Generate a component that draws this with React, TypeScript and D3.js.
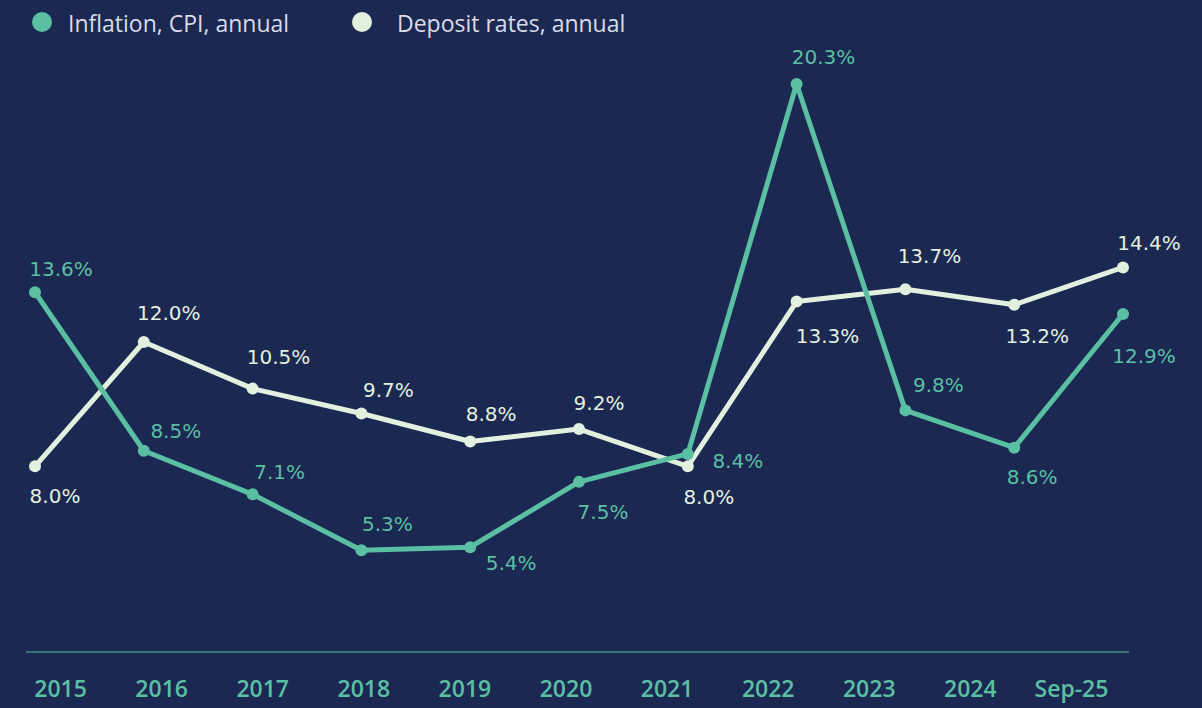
import React from "react";
import * as d3 from "d3";

const categories = ["2015", "2016", "2017", "2018", "2019", "2020", "2021", "2022", "2023", "2024", "Sep-25"];
const inflation = [13.6, 8.5, 7.1, 5.3, 5.4, 7.5, 8.4, 20.3, 9.8, 8.6, 12.9];
const deposit = [8.0, 12.0, 10.5, 9.7, 8.8, 9.2, 8.0, 13.3, 13.7, 13.2, 14.4];

// label offsets relative to each point (layout only)
const inflationLabelOffsets: [number, number][] = [
  [26, -16], [32, -13], [27, -15], [26, -19], [41, 23], [24, 37], [50, 14], [27, -20], [33, -18], [18, 36], [21, 49],
];
const depositLabelOffsets: [number, number][] = [
  [20, 37], [25, -22], [26, -25], [27, -16], [21, -20], [20, -19], [21, 38], [31, 41], [24, -26], [23, 38], [26, -17],
];

const W = 1202;
const H = 708;
const BG = "#1b2852";
const GREEN = "#5bbfa3";
const MINT = "#e1f0df";
const AXIS = "#3d8a8c";

export default function App() {
  const x = d3.scalePoint<string>().domain(categories).range([35, 1123]);
  const xLab = d3.scaleBand<string>().domain(categories).range([10, 1122]);
  const y = d3.scaleLinear().domain([0, 20.3]).range([715, 84]);

  const line = d3
    .line<number>()
    .x((_, i) => x(categories[i]) as number)
    .y((d) => y(d));

  const labelFont = "'DejaVu Sans', sans-serif";

  const series = [
    { name: "Deposit rates, annual", values: deposit, color: MINT, offs: depositLabelOffsets },
    { name: "Inflation, CPI, annual", values: inflation, color: GREEN, offs: inflationLabelOffsets },
  ];

  return (
    <svg
      width={W}
      height={H}
      style={{ position: "absolute", left: 0, top: 0, background: BG, display: "block" }}
    >
      <rect x={0} y={0} width={W} height={H} fill={BG} />
      {/* legend */}
      <g fontFamily="'Open Sans', sans-serif" fontSize={23} fill="#d8dce6">
        <circle cx={42} cy={22} r={10} fill={GREEN} />
        <text x={68} y={32}>Inflation, CPI, annual</text>
        <circle cx={362} cy={22} r={10} fill={MINT} />
        <text x={397} y={32}>Deposit rates, annual</text>
      </g>
      {/* axis */}
      <line x1={26} x2={1129} y1={652} y2={652} stroke={AXIS} strokeWidth={1.5} />
      <g fontFamily="'Open Sans', sans-serif" fontSize={23} fontWeight={600} fill={GREEN} textAnchor="middle">
        {categories.map((c) => (
          <text key={c} x={(xLab(c) as number) + xLab.bandwidth() / 2} y={697}>
            {c}
          </text>
        ))}
      </g>
      {/* lines */}
      {series.map((s) => (
        <path
          key={s.name}
          d={line(s.values) || ""}
          fill="none"
          stroke={s.color}
          strokeWidth={5}
          strokeLinejoin="round"
        />
      ))}
      {series.map((s) => (
        <g key={s.name + "pts"} fill={s.color}>
          {s.values.map((v, i) => (
            <circle key={i} cx={x(categories[i]) as number} cy={y(v)} r={6} />
          ))}
        </g>
      ))}
      {series.map((s) => (
        <g key={s.name + "lbl"} fill={s.color} fontFamily={labelFont} fontSize={20} textAnchor="middle">
          {s.values.map((v, i) => (
            <text key={i} x={(x(categories[i]) as number) + s.offs[i][0]} y={y(v) + s.offs[i][1]}>
              {v.toFixed(1)}%
            </text>
          ))}
        </g>
      ))}
    </svg>
  );
}
